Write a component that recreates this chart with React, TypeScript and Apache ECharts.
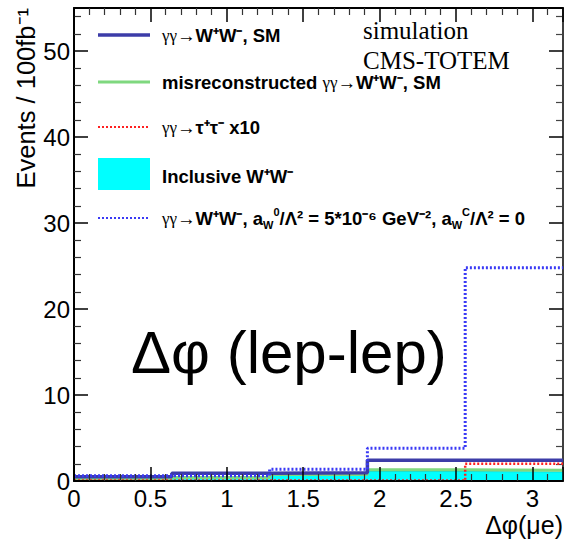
import React, { useEffect, useRef } from 'react';
import * as echarts from 'echarts';

// Histogram bin edges (Δφ in rad) and per-bin contents (Events / 100 fb^-1)
const binEdges = [0, 0.64, 1.28, 1.92, 2.56, 3.2];
const smWW = [0.5, 0.9, 0.97, 2.4, 2.4];
const misrecoWW = [0.3, 0.4, 0.75, 1.3, 1.25];
const tautauX10 = [0.05, 0.05, 0.05, 0.05, 2.0];
const inclusiveWW = [0.3, 0.35, 0.65, 1.1, 1.05];
const anomalousWW = [0.6, 0.6, 1.36, 3.8, 24.8];

const xMin = 0;
const xMax = 3.2;
const xInterval = 0.5;
const yMin = 0;
const yMax = 55;
const yInterval = 10;

function stepData(vals: number[]): number[][] {
  const pts = vals.map((v, i) => [binEdges[i], v]);
  pts.push([binEdges[binEdges.length - 1], vals[vals.length - 1]]);
  return pts;
}

const SANS = 'Liberation Sans, Arial, Helvetica, sans-serif';
const SERIF = 'Liberation Serif, Times New Roman, serif';

export default function App() {
  const ref = useRef<HTMLDivElement>(null);
  useEffect(() => {
    document.body.style.margin = '0';
    if (!ref.current) return;
    const chart = echarts.init(ref.current, undefined, { renderer: 'svg' });

    const axisCommon = {
      type: 'value',
      splitLine: { show: false },
      axisLine: { show: true, onZero: false, lineStyle: { color: '#000', width: 2 } },
      axisTick: { show: true, inside: true, length: 14, lineStyle: { color: '#000', width: 1.5 } },
      minorTick: { show: true, splitNumber: 5, length: 7, lineStyle: { color: '#333', width: 1.2 } },
      z: 10,
    };

    const richLegend = {
      g: { fontFamily: SERIF, fontSize: 17, color: '#1a1a3a', lineHeight: 24 },
      b: { fontFamily: SANS, fontSize: 18.5, fontWeight: 'bold', color: '#000', lineHeight: 24 },
      sup: { fontFamily: SANS, fontSize: 11, fontWeight: 'bold', color: '#000', lineHeight: 11, verticalAlign: 'top' },
      sub: { fontFamily: SANS, fontSize: 11, fontWeight: 'bold', color: '#000', lineHeight: 11, verticalAlign: 'bottom' },
    };

    const legendText = (y: number, text: string) => ({
      type: 'text',
      x: 162,
      y,
      style: { text, rich: richLegend, textVerticalAlign: 'middle', textAlign: 'left' },
      z: 20,
    });
    const legendLine = (y: number, color: string, width: number, dash?: number[]) => ({
      type: 'line',
      shape: { x1: 98, y1: y, x2: 150, y2: y },
      style: { stroke: color, lineWidth: width, lineDash: dash },
      z: 20,
    });

    const option: any = {
      animation: false,
      grid: { left: 74, top: 8, right: 1, bottom: 64, containLabel: false, outerBoundsMode: 'none' },
      xAxis: [
        {
          ...axisCommon,
          position: 'bottom',
          min: xMin,
          max: xMax,
          interval: xInterval,
          axisLabel: {
            show: true,
            fontFamily: SANS,
            fontSize: 24,
            color: '#000',
            margin: 5,
            showMaxLabel: false,
            formatter: (v: number) => (Math.abs(v / xInterval - Math.round(v / xInterval)) < 1e-6 ? String(v) : ''),
          },
        },
        {
          ...axisCommon,
          position: 'top',
          min: xMin,
          max: xMax,
          interval: xInterval,
          axisLabel: { show: false },
        },
      ],
      yAxis: [
        {
          ...axisCommon,
          position: 'left',
          min: yMin,
          max: yMax,
          interval: yInterval,
          axisLabel: {
            show: true,
            fontFamily: SANS,
            fontSize: 24,
            color: '#000',
            margin: 4,
            showMaxLabel: false,
          },
        },
        {
          type: 'value',
          position: 'right',
          min: yMin,
          max: yMax,
          interval: yInterval,
          splitLine: { show: false },
          axisLine: { show: true, onZero: false, lineStyle: { color: '#000', width: 1.5 } },
          axisTick: { show: true, inside: true, length: 14, lineStyle: { color: '#000', width: 1.5 } },
          minorTick: { show: true, splitNumber: 5, length: 7, lineStyle: { color: '#444', width: 1.2 } },
          axisLabel: { show: true, fontSize: 1, margin: 0, formatter: () => '' },
        },
      ],
      series: [
        {
          name: 'Inclusive W+W-',
          type: 'line',
          step: 'end',
          symbol: 'none',
          data: stepData(inclusiveWW),
          lineStyle: { color: '#00e0e0', width: 1 },
          areaStyle: { color: '#00ffff', opacity: 1 },
          z: 2,
        },
        {
          name: 'misreconstructed',
          type: 'line',
          step: 'end',
          symbol: 'none',
          data: stepData(misrecoWW),
          lineStyle: { color: '#7fd87f', width: 3 },
          z: 3,
        },
        {
          name: 'tautau x10',
          type: 'line',
          step: 'end',
          symbol: 'none',
          data: stepData(tautauX10),
          lineStyle: { color: '#ff2020', width: 2.5, type: [2, 2] },
          z: 4,
        },
        {
          name: 'SM',
          type: 'line',
          step: 'end',
          symbol: 'none',
          data: stepData(smWW),
          lineStyle: { color: '#3c3ca8', width: 3.5 },
          z: 5,
        },
        {
          name: 'anomalous',
          type: 'line',
          step: 'end',
          symbol: 'none',
          data: stepData(anomalousWW),
          lineStyle: { color: '#3a3af5', width: 3, type: [2, 2] },
          z: 6,
        },
      ],
      graphic: [
        {
          type: 'text',
          x: 26,
          y: 8,
          rotation: Math.PI / 2,
          style: {
            text: 'Events / 100fb⁻¹',
            font: `25.5px ${SANS}`,
            fill: '#000',
            textAlign: 'right',
            textVerticalAlign: 'middle',
          },
        },
        {
          type: 'text',
          x: 563,
          y: 525,
          style: {
            text: 'Δφ(μe)',
            font: `25px ${SANS}`,
            fill: '#000',
            textAlign: 'right',
            textVerticalAlign: 'middle',
          },
        },
        {
          type: 'text',
          x: 363,
          y: 30,
          style: { text: 'simulation', font: `25px ${SERIF}`, fill: '#000', textVerticalAlign: 'middle' },
          z: 20,
        },
        {
          type: 'text',
          x: 363,
          y: 60,
          style: { text: 'CMS-TOTEM', font: `25px ${SERIF}`, fill: '#000', textVerticalAlign: 'middle' },
          z: 20,
        },
        {
          type: 'text',
          x: 131,
          y: 352,
          style: { text: 'Δφ (lep-lep)', font: `60px ${SANS}`, fill: '#000', textVerticalAlign: 'middle' },
          z: 20,
        },
        legendLine(35, '#3c3ca8', 3.5),
        legendText(35, '{g|γγ}{b|→W⁺W⁻, SM}'),
        legendLine(82, '#7fd87f', 3),
        legendText(82, '{b|misreconstructed }{g|γγ}{b|→W⁺W⁻, SM}'),
        legendLine(127, '#ff2020', 2, [2, 2]),
        legendText(127, '{g|γγ}{b|→τ⁺τ⁻ x10}'),
        {
          type: 'rect',
          shape: { x: 98, y: 158, width: 52, height: 32 },
          style: { fill: '#00ffff' },
          z: 20,
        },
        legendText(176, '{b|Inclusive W⁺W⁻}'),
        legendLine(218, '#3a3af5', 2, [2, 2]),
        legendText(
          218,
          '{g|γγ}{b|→W⁺W⁻, a}{sub|W}{sup|0}{b|/Λ² = 5*10⁻⁶ GeV⁻², a}{sub|W}{sup|C}{b|/Λ² = 0}'
        ),
      ],
    };

    chart.setOption(option);
    return () => chart.dispose();
  }, []);

  return (
    <div
      ref={ref}
      style={{ position: 'absolute', left: 0, top: 0, width: 564, height: 545, background: '#fff' }}
    />
  );
}
